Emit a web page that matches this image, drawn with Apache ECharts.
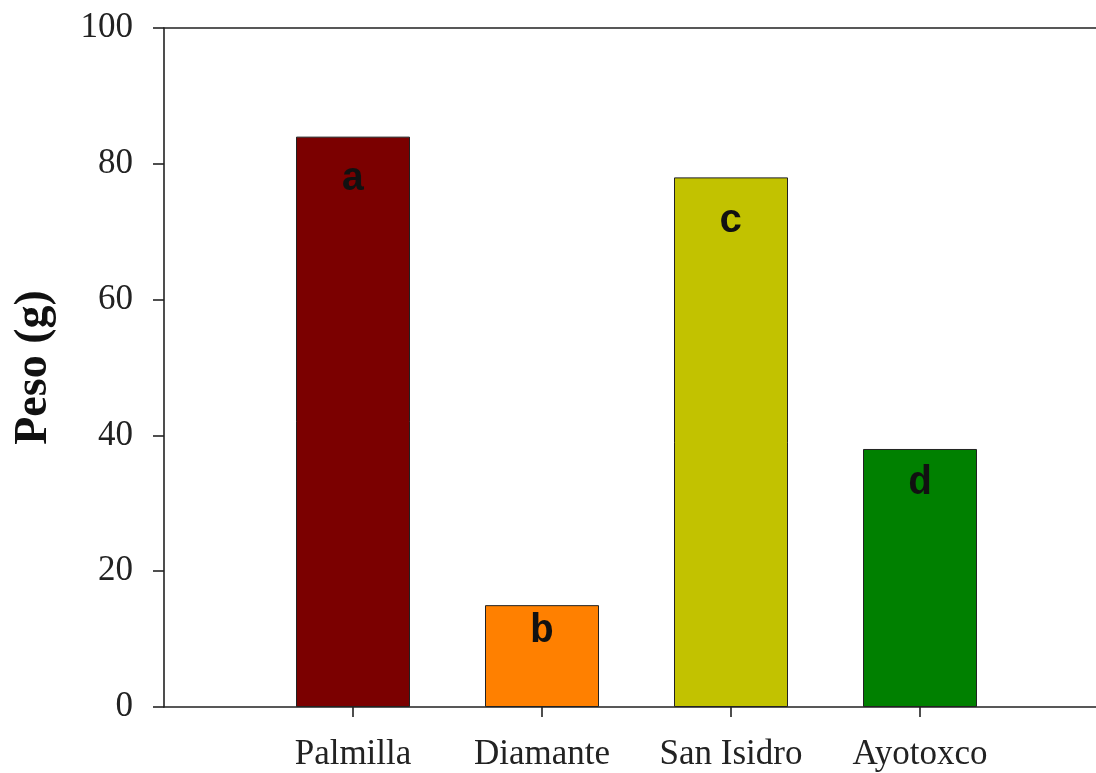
<!DOCTYPE html>
<html>
<head>
<meta charset="utf-8">
<title>Peso (g)</title>
<script src="https://cdn.jsdelivr.net/npm/echarts@6/dist/echarts.min.js"></script>
<style>
  html, body { margin: 0; padding: 0; background: #ffffff; }
  #chart { width: 1096px; height: 773px; }
</style>
</head>
<body>
<div id="chart"></div>
<script>
// Localidades y peso medio (g)
const categories = ['Palmilla', 'Diamante', 'San Isidro', 'Ayotoxco'];
const pesos = [84, 15, 78, 38];
const letras = ['a', 'b', 'c', 'd'];
const yTicks = [0, 20, 40, 60, 80, 100];

// Appearance
const barColors = ['#7b0000', '#ff8000', '#c2c200', '#008000'];
const letterDrop = [23, 7, 25, 15];   // px from bar top to the letter box
const serif = '"Liberation Serif", "Times New Roman", serif';
const mono = '"Courier New", "Nimbus Mono PS", "FreeMono", "Liberation Mono", monospace';
const ink = '#222';

// Bars sit at x = 1..n on a numeric axis running 0..n+1
const positions = categories.map((_, i) => i + 1);
const barData = pesos.map((v, i) => ({
  value: [positions[i], v],
  itemStyle: { color: barColors[i] },
  label: { distance: letterDrop[i] }
}));

const chart = echarts.init(document.getElementById('chart'), null, { renderer: 'canvas' });

chart.setOption({
  backgroundColor: '#ffffff',
  animation: false,
  grid: {
    left: 164, top: 28, width: 945, height: 679,
    outerBoundsMode: 'none',
    containLabel: false,
    show: false
  },
  xAxis: [{
    type: 'value',
    min: 0, max: categories.length + 1, interval: 1,
    splitLine: { show: false },
    axisLine: { show: true, lineStyle: { color: ink, width: 1.6 } },
    axisTick: {
      show: true, inside: false, length: 10,
      customValues: positions,
      lineStyle: { color: ink, width: 1.6 }
    },
    axisLabel: {
      customValues: positions,
      formatter: v => categories[Math.round(v) - 1] || '',
      margin: 30,
      fontFamily: serif, fontSize: 35, color: ink
    }
  }, {
    // top frame line
    type: 'value',
    position: 'top',
    min: 0, max: categories.length + 1,
    splitLine: { show: false },
    axisLine: { show: true, lineStyle: { color: ink, width: 1.6 } },
    axisTick: { show: false },
    axisLabel: { show: false }
  }],
  yAxis: {
    type: 'value',
    min: yTicks[0], max: yTicks[yTicks.length - 1], interval: 20,
    name: 'Peso (g)',
    nameLocation: 'middle',
    nameGap: 107,
    nameTextStyle: { fontFamily: serif, fontSize: 46, fontWeight: 'bold', color: '#111' },
    splitLine: { show: false },
    axisLine: { show: true, lineStyle: { color: ink, width: 1.6 } },
    axisTick: { show: true, inside: false, length: 11, lineStyle: { color: ink, width: 1.6 } },
    axisLabel: {
      margin: 31,
      fontFamily: serif, fontSize: 35, color: ink
    }
  },
  series: [{
    type: 'bar',
    xAxisIndex: 0,
    data: barData,
    barWidth: 114,
    itemStyle: { borderColor: ink, borderWidth: 1 },
    label: {
      show: true,
      position: 'insideTop',
      formatter: p => letras[p.dataIndex],
      fontFamily: mono, fontWeight: 'bold', fontSize: 40, color: '#111'
    }
  }]
});
</script>
</body>
</html>
